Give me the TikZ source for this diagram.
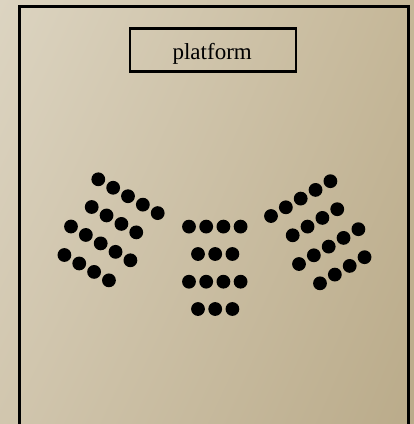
\documentclass[tikz,border=0pt]{standalone}
\usepackage{fontspec}
\setmainfont{Liberation Serif}
\usetikzlibrary{shadings}
\definecolor{bgUL}{RGB}{220,212,193}
\definecolor{bgUR}{RGB}{197,183,152}
\definecolor{bgLL}{RGB}{209,198,174}
\definecolor{bgLR}{RGB}{186,171,138}
\tikzset{
  seat/.style={fill=black},
  frame/.style={draw=black, line width=3pt},
  platbox/.style={draw=black, line width=2.5pt},
  label/.style={font=\fontsize{23}{27}\selectfont, inner sep=0pt}
}
\begin{document}
\begin{tikzpicture}[x=1pt,y=-1pt]
\useasboundingbox (0,0) rectangle (414,424);
\shade[upper left=bgUL, upper right=bgUR, lower left=bgLL, lower right=bgLR] (0,0) rectangle (414,424);
% outer room
\draw[frame] (19.5,430) -- (19.5,6.3) -- (408.7,6.3) -- (408.7,430);
% platform
\draw[platbox] (130,28.5) rectangle (296,71.7);
\node[label, anchor=base] (plat) at (212.2,59.5) {platform};
% left block
\foreach \sx/\sy/\n in {98.3/179.3/5, 91.7/207/4, 71/226.5/5, 64.4/255/4}{
  \foreach \k in {1,...,\n}{
    \fill[seat] ({\sx+14.85*(\k-1)},{\sy+8.45*(\k-1)}) circle (6.9);
  }
}
% right block
\foreach \sx/\sy/\n in {271/216/5, 292.7/235.3/4, 299/264/5, 320/283.3/4}{
  \foreach \k in {1,...,\n}{
    \fill[seat] ({\sx+14.85*(\k-1)},{\sy-8.7*(\k-1)}) circle (6.9);
  }
}
% middle block
\foreach \sx/\sy/\n in {189/226.6/4, 198/254/3, 189/281.7/4, 198/309/3}{
  \foreach \k in {1,...,\n}{
    \fill[seat] ({\sx+17.2*(\k-1)},\sy) circle (6.9);
  }
}
\end{tikzpicture}
\end{document}
